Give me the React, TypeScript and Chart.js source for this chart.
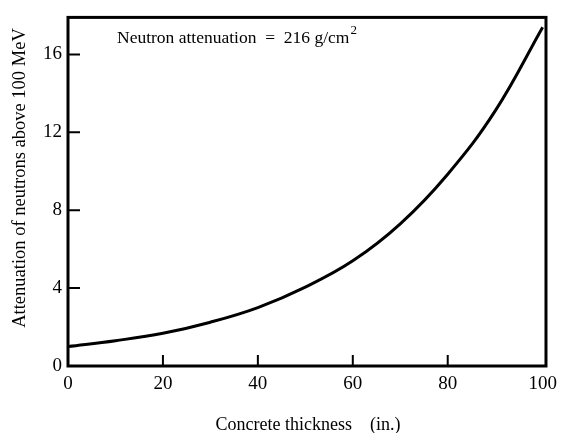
import React, { useEffect, useRef } from "react";
import { Chart, registerables } from "chart.js";

Chart.register(...registerables);

// Concrete thickness (in.) and the measured attenuation factor
const thickness = [0, 10, 20, 30, 40, 50, 60, 70, 80, 90, 100];
const attenuation = [1.0, 1.3, 1.68, 2.25, 3.0, 4.05, 5.4, 7.3, 9.85, 13.1, 17.4];

const xTicks = [0, 20, 40, 60, 80, 100];
const yTicks = [0, 4, 8, 12, 16];

const xTitle = "Concrete thickness    (in.)";
const yTitle = "Attenuation of neutrons above 100 MeV";
const noteMain = "Neutron attenuation  =  216 g/cm";
const noteSup = "2";

const FONT = "'Liberation Serif', 'Times New Roman', serif";

const framePlugin = {
  id: "frame",
  afterDraw(chart: any) {
    const { ctx, chartArea, scales } = chart;
    const { left, right, top, bottom } = chartArea;
    ctx.save();
    ctx.strokeStyle = "#000";
    ctx.lineWidth = 3;
    ctx.strokeRect(left, top, right - left, bottom - top);

    // inward tick marks
    ctx.lineWidth = 2;
    ctx.beginPath();
    xTicks.forEach((v) => {
      if (v === 0 || v === 100) return;
      const px = scales.x.getPixelForValue(v);
      ctx.moveTo(px, bottom);
      ctx.lineTo(px, bottom - 11);
    });
    yTicks.forEach((v) => {
      if (v === 0) return;
      const py = scales.y.getPixelForValue(v);
      ctx.moveTo(left, py);
      ctx.lineTo(left + 12, py);
    });
    ctx.stroke();

    ctx.fillStyle = "#000";
    // annotation
    ctx.font = `17.5px ${FONT}`;
    ctx.textAlign = "left";
    ctx.textBaseline = "alphabetic";
    ctx.fillText(noteMain, 117, 43);
    const w = ctx.measureText(noteMain).width;
    ctx.font = `13px ${FONT}`;
    ctx.fillText(noteSup, 117 + w + 1, 34);

    // axis titles
    ctx.font = `18px ${FONT}`;
    ctx.textAlign = "center";
    ctx.textBaseline = "middle";
    ctx.fillText(xTitle, 308, 425);
    ctx.save();
    ctx.translate(20, 178);
    ctx.rotate(-Math.PI / 2);
    ctx.font = `18.5px ${FONT}`;
    ctx.fillText(yTitle, 0, 0);
    ctx.restore();
    ctx.restore();
  },
};

export default function App() {
  const ref = useRef<HTMLCanvasElement>(null);

  useEffect(() => {
    if (!ref.current) return;
    const chart = new Chart(ref.current, {
      type: "line",
      data: {
        datasets: [
          {
            data: thickness.map((x, i) => ({ x, y: attenuation[i] })),
            borderColor: "#000",
            borderWidth: 3,
            pointRadius: 0,
            tension: 0.4,
            fill: false,
          },
        ],
      },
      options: {
        animation: false,
        responsive: false,
        layout: { padding: { left: 0, top: 12, right: 13, bottom: 0 } },
        plugins: { legend: { display: false }, tooltip: { enabled: false } },
        scales: {
          x: {
            type: "linear",
            min: 0,
            max: 100.7,
            afterBuildTicks: (s: any) => {
              s.ticks = xTicks.map((value) => ({ value }));
            },
            afterFit: (s: any) => {
              s.height = 67;
            },
            grid: { display: false, drawTicks: false },
            border: { display: false },
            ticks: {
              color: "#000",
              font: { family: FONT, size: 19 },
              padding: 7,
              maxRotation: 0,
            },
          },
          y: {
            type: "linear",
            min: 0,
            max: 17.9,
            afterBuildTicks: (s: any) => {
              s.ticks = yTicks.map((value) => ({ value }));
            },
            afterFit: (s: any) => {
              s.width = 68;
            },
            grid: { display: false, drawTicks: false },
            border: { display: false },
            ticks: {
              color: "#000",
              font: { family: FONT, size: 19 },
              padding: 6,
            },
          },
        },
      },
      plugins: [framePlugin],
    });
    return () => chart.destroy();
  }, []);

  return (
    <div style={{ position: "fixed", left: 0, top: 0, width: 564, height: 433, background: "#fff" }}>
      <canvas ref={ref} width={564} height={433} />
    </div>
  );
}
